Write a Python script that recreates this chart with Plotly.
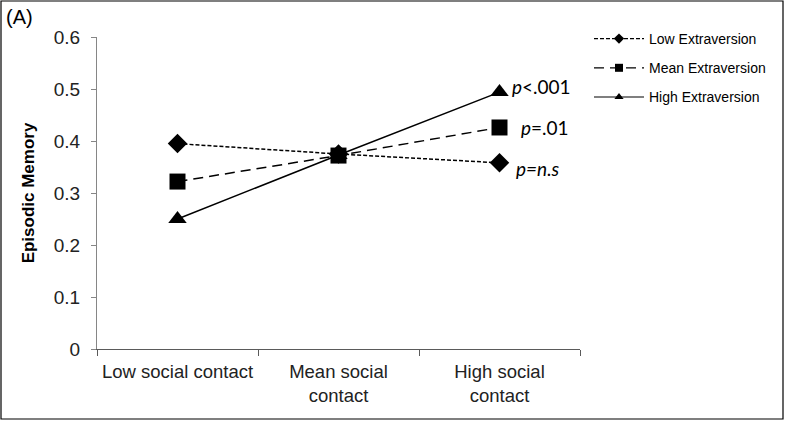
import plotly.graph_objects as go

categories = ["Low social contact", "Mean social<br>contact", "High social<br>contact"]
low_extra = [0.395, 0.375, 0.358]
mean_extra = [0.322, 0.372, 0.426]
high_extra = [0.250, 0.373, 0.494]
series_names = ["Low Extraversion", "Mean Extraversion", "High Extraversion"]
p_labels = ["<i>p</i><.001", "<i>p</i>=.01", "<i>p=n.s</i>"]
y_ticks = [0, 0.1, 0.2, 0.3, 0.4, 0.5, 0.6]

xpos = list(range(len(categories)))

fig = go.Figure()
styles = [
    (low_extra, "diamond", 15, 8, "4px,2px"),
    (mean_extra, "square", 16, 8, "10px,6px"),
    (high_extra, "triangle-up", 16, 8, "solid"),
]
for i, (name, (vals, sym, sz, lsz, dash)) in enumerate(zip(series_names, styles)):
    fig.add_trace(go.Scatter(
        x=xpos, y=vals, name=name, mode="lines+markers", showlegend=False,
        line=dict(color="black", width=1.5, dash=dash),
        marker=dict(symbol=sym, size=sz, color="black"),
    ))
    # legend entry with small marker, as in the reference
    fig.add_trace(go.Scatter(
        x=[None], y=[None], name=name, mode="lines+markers",
        legendgroup=f"g{i}", showlegend=True,
        line=dict(color="black", width=1.2, dash=dash),
        marker=dict(symbol=sym, size=lsz, color="black"),
    ))

# p-value annotations next to the high-contact points
ann_y = [high_extra[2], mean_extra[2], low_extra[2]]
ann_dx = [10, 19, 14]
ann_dy = [6, 0, -6]
for txt, yv, dx, dy in zip(p_labels, ann_y, ann_dx, ann_dy):
    fig.add_annotation(x=xpos[2], y=yv, text=txt, showarrow=False,
                       xanchor="left", xshift=dx, yshift=dy,
                       font=dict(family="Lato, Open Sans, sans-serif", size=19, color="black"))

W, H = 785, 421
ml, mr, mt, mb = 97, 205, 37, 72
pw, ph = W - ml - mr, H - mt - mb

fig.add_annotation(xref="paper", yref="paper", x=-93 / pw, y=1 + 33 / ph,
                   text="(A)", showarrow=False, xanchor="left", yanchor="top",
                   font=dict(family="Liberation Sans, Arial", size=20, color="black"))

# outer frame
fig.add_shape(type="rect", xref="paper", yref="paper",
              x0=-(ml - 1) / pw, x1=(W - ml - 2) / pw,
              y0=-(mb - 2) / ph, y1=(H - mb - 1) / ph,
              line=dict(color="black", width=1.2))

fig.update_layout(
    width=W, height=H,
    margin=dict(l=ml, r=mr, t=mt, b=mb, autoexpand=False),
    plot_bgcolor="white", paper_bgcolor="white",
    font=dict(family="Liberation Sans, Arial", size=18, color="#222"),
    showlegend=True,
    legend=dict(x=1 + 9 / pw, y=1 + 14 / ph, xanchor="left", yanchor="top",
                font=dict(size=14, color="black"), tracegroupgap=8,
                itemwidth=50, bgcolor="rgba(0,0,0,0)"),
    xaxis=dict(range=[-0.5, 2.5], tickvals=xpos, ticktext=categories,
               ticks="", showgrid=False, zeroline=False,
               showline=True, linecolor="#5a5a5a", linewidth=1.2,
               ticklabelstandoff=6,
               tickfont=dict(size=18.5, color="#222"),
               minor=dict(tickvals=[-0.5, 0.5, 1.5, 2.5], ticks="outside",
                          ticklen=6, tickcolor="#5a5a5a", showgrid=False)),
    yaxis=dict(range=[0, 0.6], tickvals=y_ticks,
               ticktext=["0", "0.1", "0.2", "0.3", "0.4", "0.5", "0.6"],
               ticks="outside", ticklen=5, tickcolor="#868686",
               showgrid=False, zeroline=False,
               showline=True, linecolor="#868686", linewidth=1.2,
               ticklabelstandoff=7,
               tickfont=dict(size=19, color="#222"),
               title=dict(text="<b>Episodic Memory</b>", standoff=14,
                          font=dict(size=17, color="black"))),
)

fig.write_html("out.html", config={"displayModeBar": False},
               post_script="document.body.style.margin='0';")
